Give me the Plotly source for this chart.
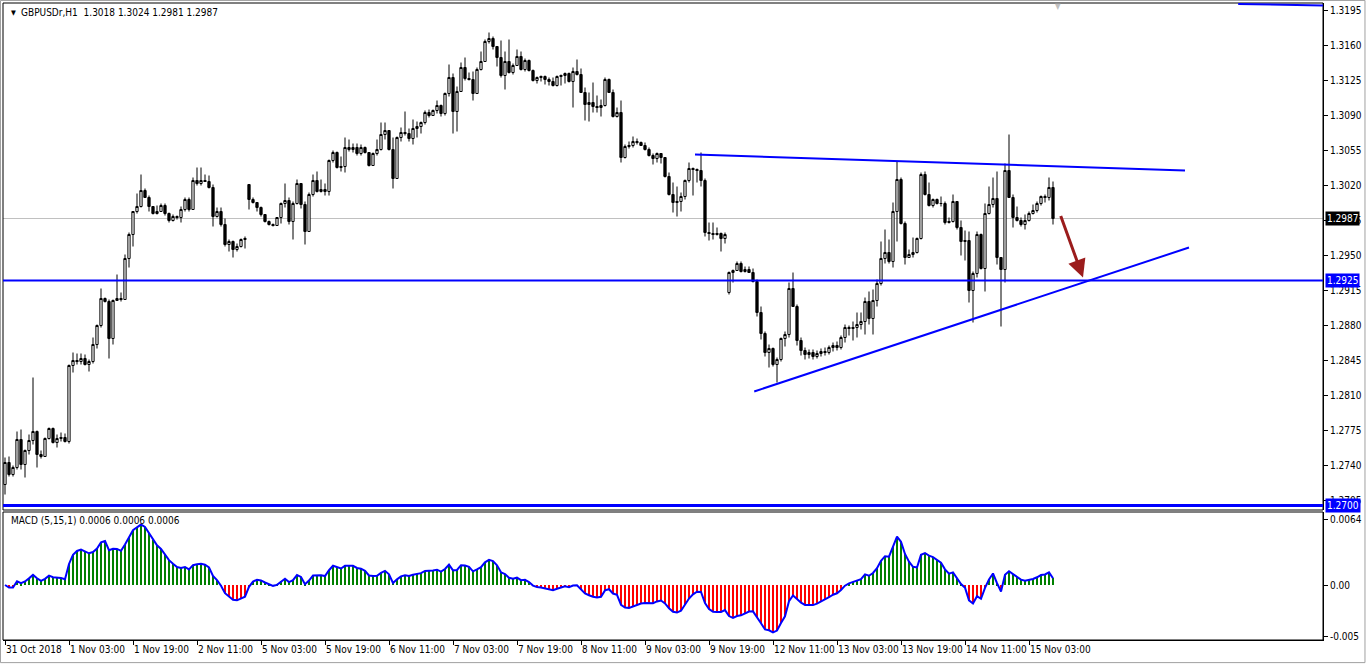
import plotly.graph_objects as go
import pandas as pd

# ---------------- data (prices in pips above BASE) ----------------
BASE = 1.2700
PIP = 0.0001

open_pips = [
    21, 43, 31, 38, 66, 41, 55, 65, 74, 51,
    49, 67, 77, 63, 67, 68, 64, 140, 145, 144,
    147, 141, 144, 161, 180, 207, 204, 167, 205, 207,
    206, 247, 271, 294, 299, 315, 308, 299, 292, 294,
    300, 292, 285, 289, 288, 296, 306, 296, 325, 322,
    325, 324, 318, 289, 294, 281, 261, 264, 256, 259,
    266, 321, 306, 303, 298, 291, 284, 281, 280, 288,
    302, 305, 284, 302, 322, 301, 274, 311, 325, 314,
    316, 314, 345, 353, 338, 339, 358, 356, 358, 352,
    358, 353, 340, 352, 356, 371, 375, 356, 327, 368,
    373, 372, 367, 377, 379, 383, 393, 390, 395, 400,
    392, 412, 428, 394, 414, 438, 427, 426, 412, 436,
    444, 464, 467, 459, 448, 430, 444, 433, 440, 449,
    436, 445, 435, 425, 428, 429, 426, 424, 420, 429,
    430, 432, 424, 434, 431, 413, 401, 403, 399, 398,
    400, 426, 413, 389, 393, 348, 359, 360, 364, 363,
    360, 356, 350, 347, 352, 348, 329, 311, 303, 304,
    309, 325, 337, 336, 335, 325, 273, 272, 271, 272,
    267, 213, 233, 235, 242, 234, 236, 233, 224, 193,
    172, 153, 157, 141, 146, 167, 171, 217, 199, 165,
    155, 151, 153, 149, 152, 154, 153, 158, 160, 158,
    168, 178, 177, 178, 181, 184, 204, 187, 205, 222,
    247, 253, 244, 294, 326, 282, 248, 251, 253, 267,
    331, 311, 300, 306, 302, 302, 283, 284, 304, 278,
    264, 265, 215, 232, 271, 237, 292, 301, 307, 248,
    236, 335, 308, 288, 285, 281, 285, 292, 295, 302,
    309, 308, 318,
]
high_pips = [
    48, 49, 40, 74, 76, 56, 71, 128, 75, 55,
    68, 78, 78, 71, 73, 72, 141, 153, 152, 152,
    151, 146, 168, 181, 217, 208, 206, 206, 231, 213,
    251, 273, 294, 312, 331, 317, 310, 299, 300, 302,
    302, 293, 291, 290, 299, 308, 308, 328, 338, 338,
    331, 330, 321, 298, 298, 287, 266, 265, 262, 267,
    269, 321, 308, 303, 299, 291, 285, 282, 288, 303,
    322, 308, 304, 326, 322, 304, 313, 331, 334, 326,
    322, 346, 355, 354, 349, 368, 366, 362, 362, 361,
    359, 353, 353, 366, 383, 383, 375, 368, 369, 378,
    394, 377, 386, 384, 384, 395, 396, 396, 405, 401,
    413, 441, 432, 419, 443, 448, 433, 434, 438, 454,
    466, 473, 469, 459, 465, 454, 466, 442, 456, 454,
    447, 446, 436, 429, 430, 430, 428, 428, 430, 431,
    433, 433, 438, 446, 437, 418, 413, 423, 410, 406,
    428, 427, 416, 398, 405, 361, 364, 369, 367, 364,
    363, 358, 352, 353, 352, 348, 333, 323, 319, 313,
    326, 343, 338, 337, 353, 327, 283, 283, 278, 273,
    273, 234, 236, 244, 244, 239, 239, 237, 226, 199,
    174, 161, 158, 148, 168, 174, 223, 233, 201, 168,
    158, 156, 156, 155, 157, 158, 160, 163, 164, 170,
    181, 180, 184, 193, 193, 208, 214, 216, 226, 264,
    276, 266, 303, 344, 328, 284, 256, 268, 268, 333,
    334, 323, 307, 307, 309, 304, 288, 311, 304, 285,
    275, 274, 234, 274, 272, 302, 319, 328, 334, 248,
    342, 371, 311, 299, 288, 291, 294, 301, 304, 310,
    311, 328, 324,
]
low_pips = [
    11, 29, 29, 36, 36, 28, 51, 61, 38, 47,
    49, 66, 62, 58, 64, 63, 62, 133, 141, 141,
    140, 134, 142, 157, 178, 203, 147, 161, 205, 204,
    206, 238, 259, 292, 298, 308, 294, 291, 291, 294,
    290, 283, 284, 286, 283, 294, 294, 296, 320, 320,
    324, 317, 279, 288, 279, 259, 254, 248, 254, 258,
    257, 296, 302, 294, 289, 283, 280, 279, 280, 282,
    298, 281, 266, 301, 297, 261, 274, 309, 313, 313,
    310, 310, 343, 337, 334, 333, 354, 353, 350, 350,
    352, 339, 340, 350, 355, 366, 355, 317, 327, 364,
    370, 364, 361, 368, 372, 381, 388, 390, 392, 389,
    390, 409, 372, 374, 414, 425, 425, 405, 412, 435,
    444, 462, 456, 439, 428, 416, 432, 431, 440, 435,
    434, 434, 424, 422, 424, 421, 420, 419, 419, 420,
    422, 423, 398, 430, 413, 385, 384, 393, 393, 389,
    399, 413, 388, 388, 343, 347, 357, 358, 361, 360,
    355, 349, 341, 343, 342, 328, 310, 293, 289, 294,
    306, 323, 310, 323, 319, 269, 265, 266, 270, 254,
    262, 211, 223, 235, 233, 233, 233, 223, 189, 166,
    149, 138, 139, 123, 144, 159, 168, 199, 160, 150,
    146, 147, 146, 147, 149, 150, 151, 154, 155, 156,
    163, 170, 165, 168, 176, 171, 181, 171, 199, 220,
    242, 242, 238, 264, 281, 241, 248, 248, 252, 266,
    310, 299, 298, 301, 299, 281, 282, 283, 276, 250,
    245, 203, 183, 228, 236, 214, 291, 298, 241, 179,
    223, 308, 278, 284, 279, 276, 284, 291, 293, 300,
    303, 305, 281,
]
close_pips = [
    43, 31, 38, 66, 41, 55, 65, 74, 51, 49,
    67, 77, 63, 67, 68, 64, 140, 145, 144, 147,
    141, 144, 161, 180, 207, 204, 167, 205, 207, 206,
    247, 271, 294, 299, 315, 308, 299, 292, 294, 300,
    292, 285, 289, 288, 296, 306, 296, 325, 322, 325,
    324, 318, 289, 294, 281, 261, 264, 256, 259, 266,
    267, 306, 303, 298, 291, 284, 281, 280, 288, 302,
    305, 284, 302, 322, 301, 274, 311, 325, 314, 316,
    314, 345, 353, 338, 339, 358, 356, 358, 352, 358,
    353, 340, 352, 356, 371, 375, 356, 327, 368, 373,
    372, 367, 377, 379, 383, 393, 390, 395, 400, 392,
    412, 428, 394, 414, 438, 427, 426, 412, 436, 444,
    464, 467, 459, 448, 430, 444, 433, 440, 449, 436,
    445, 435, 425, 428, 429, 426, 424, 420, 429, 430,
    432, 424, 434, 431, 413, 401, 403, 399, 398, 400,
    426, 413, 389, 393, 348, 359, 360, 364, 363, 360,
    356, 350, 347, 352, 348, 329, 311, 303, 304, 309,
    325, 337, 336, 335, 325, 273, 272, 271, 272, 267,
    271, 233, 235, 242, 234, 236, 233, 224, 193, 172,
    153, 157, 141, 146, 167, 171, 217, 199, 165, 155,
    151, 153, 149, 152, 154, 153, 158, 160, 158, 168,
    178, 177, 178, 181, 184, 204, 187, 205, 222, 247,
    253, 244, 294, 326, 282, 248, 251, 253, 267, 331,
    311, 300, 306, 302, 302, 283, 284, 304, 278, 264,
    265, 215, 232, 271, 237, 292, 301, 307, 248, 236,
    335, 308, 288, 285, 281, 285, 292, 295, 302, 309,
    308, 318, 287,
]

x_tick_bars = [0, 16, 32, 48, 64, 80, 96, 112, 128, 144, 160, 176, 192, 208, 224, 240, 256]
x_tick_text = ["31 Oct 2018", "1 Nov 03:00", "1 Nov 19:00", "2 Nov 11:00", "5 Nov 03:00",
               "5 Nov 19:00", "6 Nov 11:00", "7 Nov 03:00", "7 Nov 19:00", "8 Nov 11:00",
               "9 Nov 03:00", "9 Nov 19:00", "12 Nov 11:00", "13 Nov 03:00", "13 Nov 19:00",
               "14 Nov 11:00", "15 Nov 03:00"]

price_ticks = [1.3195, 1.3160, 1.3125, 1.3090, 1.3055, 1.3020, 1.2985, 1.2950,
               1.2915, 1.2880, 1.2845, 1.2810, 1.2775, 1.2740, 1.2705]
macd_ticks = [0.0064, 0.0, -0.005]
macd_tick_text = ["0.0064", "0.00", "-0.005"]

support_level = 1.2925
bottom_level = 1.2700
last_price = 1.2987
# trend lines: (bar, price) endpoints
upper_trend = [(172.5, 1.3051), (295.0, 1.3035)]
lower_trend = [(187.3, 1.2814), (296.0, 1.2958)]
top_segment = [(308.3, 1.32015), (329.5, 1.3200)]
arrow_pts = [(263.8, 1.2991), (269.5, 1.2928)]

# ---------------- derived ----------------
n = len(close_pips)
idx = list(range(n))
o = [BASE + v * PIP for v in open_pips]
h = [BASE + v * PIP for v in high_pips]
l = [BASE + v * PIP for v in low_pips]
c = [BASE + v * PIP for v in close_pips]

cs = pd.Series(c)
macd = (cs.ewm(span=5, adjust=False).mean() - cs.ewm(span=15, adjust=False).mean()).tolist()
hist_colors = ["#008000" if m >= 0 else "#FF0000" for m in macd]

FONT = "DejaVu Sans Condensed, DejaVu Sans, Arial"
BLUE = "#0000FF"

fig = go.Figure()
fig.add_trace(go.Candlestick(
    x=idx, open=o, high=h, low=l, close=c,
    increasing=dict(line=dict(color="black", width=1), fillcolor="white"),
    decreasing=dict(line=dict(color="black", width=1), fillcolor="black"),
    whiskerwidth=0, xaxis="x", yaxis="y", showlegend=False, hoverinfo="skip"))

fig.add_trace(go.Bar(x=idx, y=macd, marker=dict(color=hist_colors, line=dict(width=0)),
                     width=0.55, xaxis="x2", yaxis="y2", showlegend=False))
fig.add_trace(go.Scatter(x=idx, y=macd, mode="lines", line=dict(color=BLUE, width=2),
                         xaxis="x2", yaxis="y2", showlegend=False))

main_bottom = (640 - 510) / 637
macd_top = (640 - 512) / 637

fig.update_layout(
    width=1366, height=665,
    margin=dict(l=3, r=43, t=3, b=25, autoexpand=False),
    paper_bgcolor="white", plot_bgcolor="white",
    font=dict(family=FONT, size=10, color="black"),
    showlegend=False, bargap=0, boxgap=0.2,
    xaxis=dict(domain=[0, 1], anchor="y", range=[-0.5, 329.5], showticklabels=False,
               showgrid=False, zeroline=False, rangeslider=dict(visible=False), ticks="",
               matches="x2"),
    yaxis=dict(domain=[main_bottom, 1], anchor="x", side="right", range=[1.26955, 1.32025],
               tickvals=price_ticks, tickformat=".4f", ticks="outside", ticklen=4,
               tickcolor="black", showline=True, linecolor="black", linewidth=1,
               showgrid=False, zeroline=False, automargin=False),
    xaxis2=dict(domain=[0, 1], anchor="y2", range=[-0.5, 329.5], tickvals=x_tick_bars,
                ticktext=x_tick_text, ticks="outside", ticklen=4, tickcolor="black",
                tickangle=0, ticklabelposition="outside right", showgrid=False,
                zeroline=False, showline=True, linecolor="black", automargin=False),
    yaxis2=dict(domain=[0, macd_top], anchor="x2", side="right", range=[-0.00533, 0.00708],
                tickvals=macd_ticks, ticktext=macd_tick_text, ticks="outside", ticklen=4,
                tickcolor="black", showline=True, linecolor="black", showgrid=False,
                zeroline=False, automargin=False),
)

shapes = []
# panel borders
shapes.append(dict(type="rect", xref="x domain", yref="y domain", x0=0, x1=1, y0=0, y1=1,
                   line=dict(color="black", width=1)))
shapes.append(dict(type="rect", xref="x2 domain", yref="y2 domain", x0=0, x1=1, y0=0, y1=1,
                   line=dict(color="black", width=1)))
# outer gray frame
shapes.append(dict(type="rect", xref="paper", yref="paper", x0=-0.0019, x1=1.0318,
                   y0=-0.0355, y1=1.0040, line=dict(color="#a0a0a0", width=1), layer="below"))
# horizontal lines
shapes.append(dict(type="line", xref="x domain", yref="y", x0=0, x1=1, y0=last_price, y1=last_price,
                   line=dict(color="#C0C0C0", width=1), layer="below"))
shapes.append(dict(type="line", xref="x domain", yref="y", x0=0, x1=1, y0=support_level,
                   y1=support_level, line=dict(color=BLUE, width=2)))
shapes.append(dict(type="line", xref="x domain", yref="y", x0=0, x1=1, y0=bottom_level,
                   y1=bottom_level, line=dict(color=BLUE, width=3)))
for seg in (upper_trend, lower_trend, top_segment):
    shapes.append(dict(type="line", xref="x", yref="y", x0=seg[0][0], y0=seg[0][1],
                       x1=seg[1][0], y1=seg[1][1], line=dict(color=BLUE, width=2)))
fig.update_layout(shapes=shapes)

ann = []
ann.append(dict(xref="paper", yref="paper", x=(9 - 3) / 1320, y=(640 - 13) / 637, text="▼",
                showarrow=False, xanchor="left", yanchor="middle", font=dict(size=7, color="black")))
ann.append(dict(xref="paper", yref="paper", x=(19 - 3) / 1320, y=(640 - 13) / 637,
                text="GBPUSDr,H1\u00a0 1.3018 1.3024 1.2981 1.2987",
                showarrow=False, xanchor="left", yanchor="middle", font=dict(size=10)))
ann.append(dict(xref="paper", yref="paper", x=(9 - 3) / 1320, y=(640 - 520) / 637,
                text="MACD (5,15,1) 0.0006 0.0006 0.0006",
                showarrow=False, xanchor="left", yanchor="middle", font=dict(size=10)))
ann.append(dict(xref="paper", yref="paper", x=(1058 - 3) / 1320, y=(640 - 6) / 637, text="▼",
                showarrow=False, xanchor="center", yanchor="middle", font=dict(size=8, color="#c0c0c0")))
# price labels on the right axis
for val, bg in ((last_price, "black"), (support_level, BLUE), (bottom_level, BLUE)):
    ann.append(dict(xref="paper", yref="y", x=1.0, y=val, xshift=2, text=f"{val:.4f}",
                    showarrow=False, xanchor="left", yanchor="middle", bgcolor=bg,
                    borderpad=1, font=dict(size=10, color="white")))
# red arrow
ann.append(dict(xref="x", yref="y", axref="x", ayref="y", x=arrow_pts[1][0], y=arrow_pts[1][1],
                ax=arrow_pts[0][0], ay=arrow_pts[0][1], text="", showarrow=True,
                arrowhead=2, arrowsize=1.2, arrowwidth=3, arrowcolor="#9B1C1C"))
fig.update_layout(annotations=ann)

fig.write_html("out.html", config={"displayModeBar": False},
               post_script="document.body.style.margin='0';document.body.style.padding='0';")
